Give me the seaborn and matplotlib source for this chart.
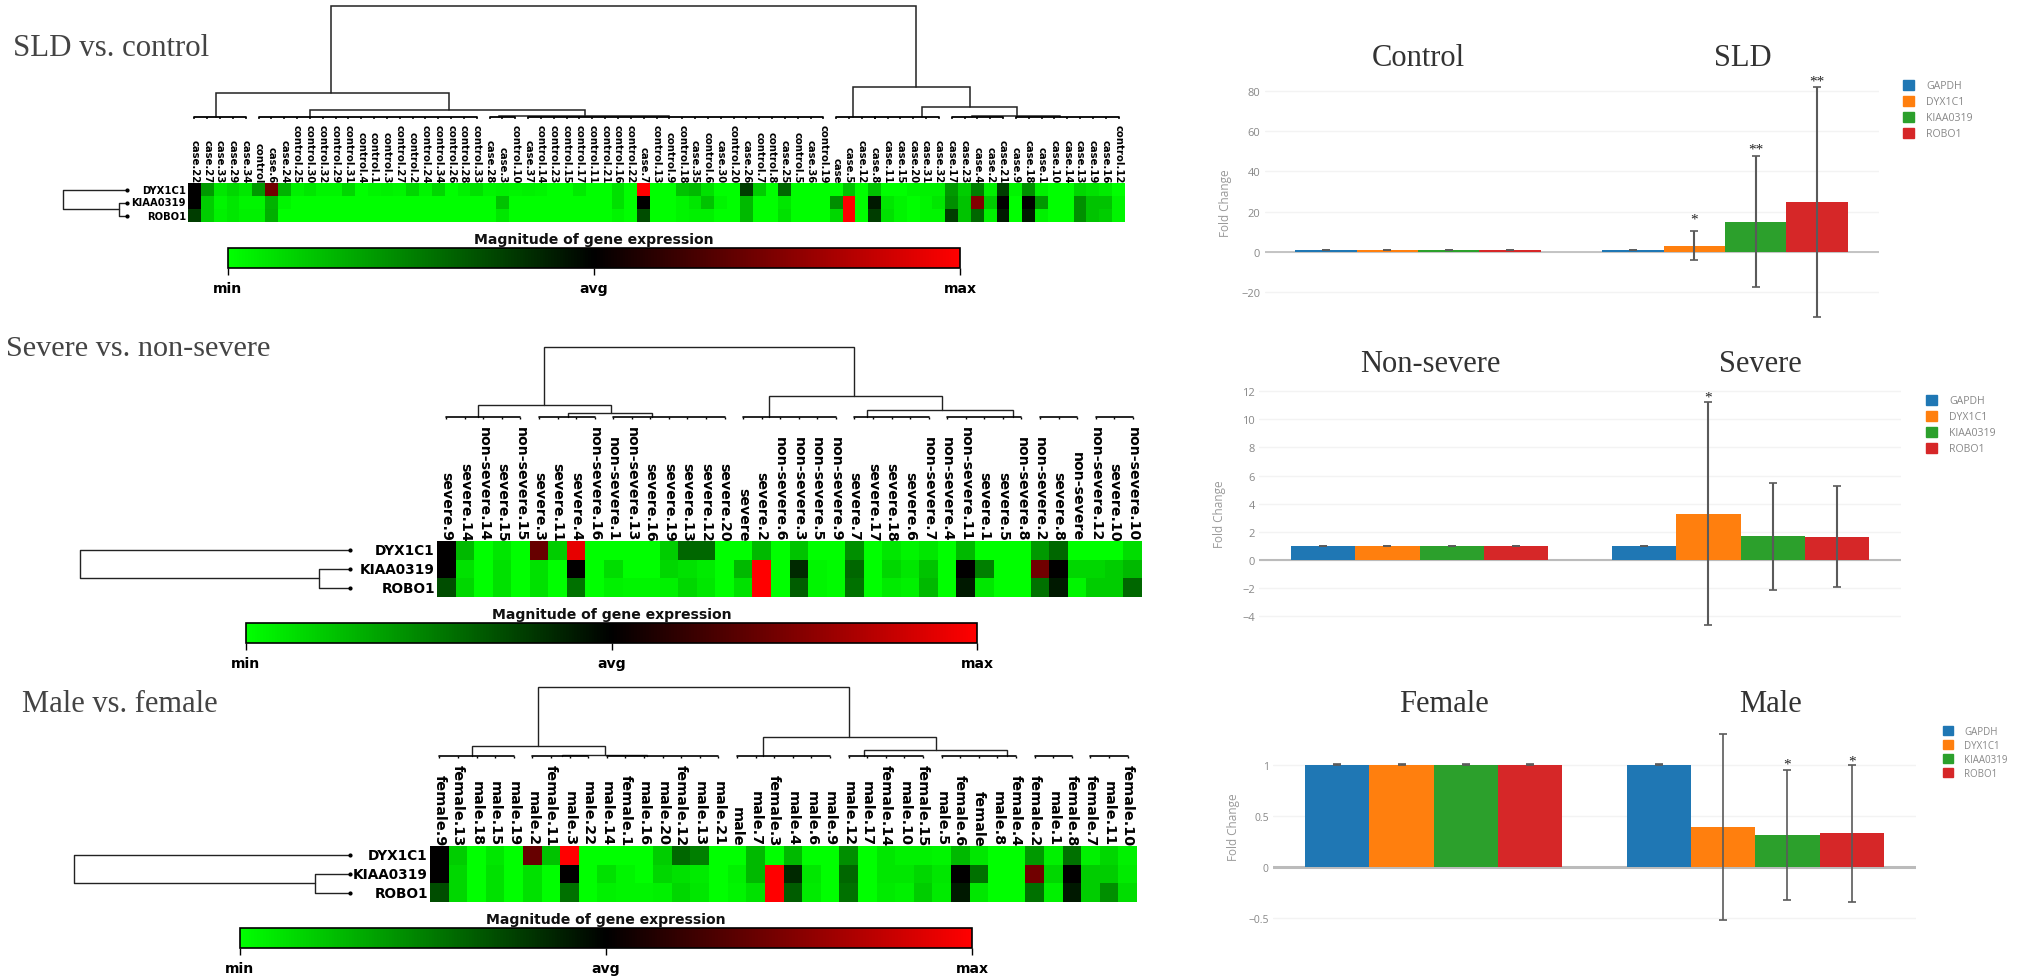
import matplotlib
matplotlib.use('Agg')
import matplotlib.pyplot as plt
import matplotlib.cm as cm
from matplotlib.colors import LinearSegmentedColormap, Normalize
import numpy as np
import pandas as pd
import seaborn as sns

W, H = 2030, 979

GENES = ['DYX1C1', 'KIAA0319', 'ROBO1']
BAR_GENES = ['GAPDH', 'DYX1C1', 'KIAA0319', 'ROBO1']
BAR_COLORS = ['#1f77b4', '#ff7f0e', '#2ca02c', '#d62728']

# Heatmap 1: SLD vs. control
LABELS_1 = ['case.22', 'case.27', 'case.33', 'case.29', 'case.34', 'control', 'case.6', 'case.24',
            'control.25', 'control.30', 'control.32', 'control.29', 'control.31', 'control.4',
            'control.1', 'control.3', 'control.27', 'control.2', 'control.24', 'control.34',
            'control.26', 'control.28', 'control.33', 'case.28', 'case.3', 'control.10', 'case.37',
            'control.14', 'control.23', 'control.15', 'control.17', 'control.11', 'control.21',
            'control.16', 'control.22', 'case.7', 'control.13', 'control.9', 'control.18', 'case.35',
            'control.6', 'case.30', 'control.20', 'case.26', 'control.7', 'control.8', 'case.25',
            'control.5', 'case.36', 'control.19', 'case', 'case.5', 'case.12', 'case.8', 'case.11',
            'case.15', 'case.20', 'case.31', 'case.32', 'case.17', 'case.23', 'case.4', 'case.2',
            'case.21', 'case.9', 'case.18', 'case.1', 'case.10', 'case.14', 'case.13', 'case.19',
            'case.16', 'control.12']
DYX_1 = [.5, .2, .05, .08, .05, .2, .72, .15, .03, .05,
         .02, .02, .08, 0, .02, .03, .02, .08, .02, .08,
         0, .03, .06, .02, .03, .02, .03, .02, 0, 0,
         .04, 0, 0, .06, 0, 1, 0, 0, .12, .14,
         .06, 0, 0, .38, .1, 0, .3, 0, 0, 0,
         0, .12, 0, .12, 0, 0, .02, .03, .03, .2,
         .1, .25, .03, .38, .02, .22, .03, 0, 0, .08,
         .06, .04, 0]
KIAA_1 = [.5, .1, .02, .05, .02, .02, .15, .02, 0, 0,
          0, 0, 0, 0, 0, 0, 0, 0, 0, 0,
          0, 0, 0, 0, .12, 0, 0, 0, 0, 0,
          0, 0, 0, .06, 0, .5, 0, 0, .02, .05,
          .12, .02, 0, .14, 0, 0, .05, 0, 0, 0,
          .22, 1, 0, .45, .05, .02, 0, .02, .05, .22,
          .12, .75, .1, .5, 0, .5, .2, 0, 0, .22,
          .12, .12, .02]
ROBO_1 = [.38, .1, .03, .05, .03, .03, .16, 0, 0, 0,
          0, 0, 0, 0, 0, 0, 0, 0, 0, 0,
          0, 0, 0, 0, .05, 0, 0, 0, 0, 0,
          0, 0, 0, .02, 0, .35, 0, 0, .02, .03,
          .03, 0, 0, .14, 0, 0, .06, 0, 0, 0,
          .08, 1, 0, .38, .06, .02, 0, .02, .02, .38,
          .12, .3, .03, .45, 0, .45, .03, 0, 0, .22,
          .12, .1, .02]

# Heatmap 2: severe vs. non-severe
LABELS_2 = ['severe.9', 'severe.14', 'non-severe.14', 'severe.15', 'non-severe.15', 'severe.3',
            'severe.11', 'severe.4', 'non-severe.16', 'non-severe.1', 'non-severe.13', 'severe.16',
            'severe.19', 'severe.13', 'severe.12', 'severe.20', 'severe', 'severe.2', 'non-severe.6',
            'non-severe.3', 'non-severe.5', 'non-severe.9', 'severe.7', 'severe.17', 'severe.18',
            'severe.6', 'non-severe.7', 'non-severe.4', 'non-severe.11', 'severe.1', 'severe.5',
            'non-severe.8', 'non-severe.2', 'severe.8', 'non-severe', 'non-severe.12', 'severe.10',
            'non-severe.10']
DYX_2 = [.5, .14, 0, .05, 0, .7, .1, .95, 0, 0, 0, 0, .1, .3, .3, 0, 0, .14, 0, .12,
         0, 0, .22, 0, .05, .02, .05, 0, .14, 0, 0, 0, .2, .3, 0, 0, 0, .07]
KIAA_2 = [.5, .06, 0, .06, 0, .06, 0, .5, 0, .07, 0, 0, .08, .06, .04, 0, .14, 1, 0, .42,
          .02, .01, .3, 0, .08, .05, .12, 0, .5, .25, 0, 0, .72, .5, .08, .08, .1, .14]
ROBO_2 = [.35, .08, 0, .06, 0, .06, 0, .28, 0, .03, .02, .02, .03, .08, .05, 0, .06, 1, 0, .32,
          .02, .01, .28, 0, .04, .03, .14, 0, .45, .05, 0, 0, .28, .45, .02, .1, .1, .3]

# Heatmap 3: male vs. female
LABELS_3 = ['female.9', 'female.13', 'male.18', 'male.15', 'male.19', 'male.2', 'female.11', 'male.3',
            'male.22', 'male.14', 'female.1', 'male.16', 'male.20', 'female.12', 'male.13', 'male.21',
            'male', 'male.7', 'female.3', 'male.4', 'male.6', 'male.9', 'male.12', 'male.17',
            'female.14', 'male.10', 'female.15', 'male.5', 'female.6', 'female', 'male.8', 'female.4',
            'female.2', 'male.1', 'female.8', 'female.7', 'male.11', 'female.10']
DYX_3 = [.5, .1, 0, .05, 0, .7, .12, 1, 0, 0, 0, 0, .1, .3, .25, 0, 0, .14, 0, .14,
         0, 0, .22, 0, .05, .03, .03, .02, .14, .05, 0, 0, .2, .03, .28, .03, .08, .03]
KIAA_3 = [.5, .08, 0, .06, 0, .06, 0, .5, 0, .06, .02, 0, .08, .06, .04, 0, .03, .14, 1, .42,
          .05, 0, .3, 0, .05, .05, .08, .05, .5, .28, 0, 0, .72, .08, .5, .1, .1, .04]
ROBO_3 = [.35, .08, 0, .06, 0, .06, 0, .28, 0, .03, .02, .02, .03, .08, .05, 0, .02, .06, 1, .32,
          .04, 0, .28, 0, .04, .03, .1, .04, .45, .05, 0, 0, .28, .03, .45, .1, .22, .07]

# Dendrograms: (left col, right col, height, left child height, right child height)
TREE_1 = [(11.14, 56.7, 113, 26, 32), (2.2, 20.3, 26, 2, 9), (9.5, 30.9, 9, 2, 3),
          (24.2, 37.5, 3, 2, 2), (51.8, 60.9, 32, 2, 12), (57.2, 64.6, 12, 2, 3), (61.1, 67.9, 3, 2, 2)]
COMBS_1 = [(.5, 4.5), (5.5, 22.5), (23.5, 25.5), (26.5, 49.5), (50.5, 53.5), (53.5, 58.5),
           (59.5, 63.5), (64.5, 72.5)]
TREE_2 = [(5.77, 22.5, 72, 14, 23), (2.2, 9.4, 14, 2, 6), (7.06, 11.6, 6, 2, 2),
          (17.9, 27.2, 23, 2, 9), (23.2, 31.05, 9, 2, 2)]
COMBS_2 = [(.5, 4.5), (5.5, 8.5), (9.5, 15.5), (16.5, 21.5), (22.5, 26.5), (27.5, 31.5),
           (32.5, 34.5), (35.5, 37.5)]
TREE_3 = [(5.8, 22.5, 71, 12, 21), (2.26, 9.4, 12, 2, 3), (7.1, 11.67, 3, 2, 2),
          (17.9, 27.2, 21, 2, 8), (23.3, 31.0, 8, 2, 2)]
COMBS_3 = COMBS_2
COMB_H = 2

# Fold change bars
CONDS_1 = ['Control', 'SLD']
FC_1_CTRL = [1, 1, 1, 1]
FC_1_CASE = [1, 3.1, 15, 24.9]
ERR_1_CTRL = [.12, .12, .12, .12]
ERR_1_CASE = [.12, 7.3, 32.6, 57.3]

CONDS_2 = ['Non-severe', 'Severe']
FC_2_CTRL = [1, 1, 1, 1]
FC_2_CASE = [1, 3.3, 1.7, 1.65]
ERR_2_CTRL = [.03, .03, .03, .03]
ERR_2_CASE = [.03, 7.9, 3.8, 3.6]

CONDS_3 = ['Female', 'Male']
FC_3_CTRL = [1, 1, 1, 1]
FC_3_CASE = [1, .39, .31, .33]
ERR_3_CTRL = [.005, .005, .005, .005]
ERR_3_CASE = [.005, .91, .635, .67]

green_red = LinearSegmentedColormap.from_list('gr', ['#00ff00', '#000000', '#ff0000'])

sns.set_theme(style='white')
fig = plt.figure(figsize=(W / 100, H / 100), dpi=100, facecolor='white')


def px_axes(x0, y0, x1, y1):
    return fig.add_axes([x0 / W, 1 - y1 / H, (x1 - x0) / W, (y1 - y0) / H])


def px_text(x, y, s, **kw):
    kw.setdefault('ha', 'center')
    kw.setdefault('va', 'center')
    return fig.text(x / W, 1 - y / H, s, **kw)


def draw_heat(box, labels, rows, col_size, row_size, pad):
    ax = px_axes(*box)
    df = pd.DataFrame(rows, index=GENES, columns=labels)
    sns.heatmap(df, ax=ax, cmap=green_red, vmin=0, vmax=1, cbar=False,
                xticklabels=True, yticklabels=True, linewidths=0)
    ax.xaxis.tick_top()
    ax.tick_params(axis='x', length=0, pad=pad, rotation=270)
    ax.tick_params(axis='y', length=0, pad=pad + 1, rotation=0)
    ax.set_xlabel('')
    ax.set_ylabel('')
    for t in ax.get_xticklabels():
        t.set_fontsize(col_size)
        t.set_fontweight('bold')
        t.set_fontfamily('DejaVu Sans')
        t.set_color('black')
    for t in ax.get_yticklabels():
        t.set_fontsize(row_size)
        t.set_fontweight('bold')
        t.set_fontfamily('DejaVu Sans')
        t.set_color('black')
    return ax


def draw_tree(box, tree, combs, ncols, lw):
    ax = px_axes(*box)
    ax.set_xlim(0, ncols)
    ax.set_ylim(0, tree[0][2])
    ax.axis('off')
    for x1, x2, h, h1, h2 in tree:
        ax.plot([x1, x1, x2, x2], [h1, h, h, h2], color='#222222', lw=lw, solid_joinstyle='miter', clip_on=False)
    for a, b in combs:
        ax.plot([a, b], [COMB_H, COMB_H], color='black', lw=lw + .2, clip_on=False)
        ax.vlines(np.arange(a, b + .5), 0, COMB_H, color='black', lw=lw, clip_on=False)


def draw_row_tree(box, root, inner, lw):
    ax = px_axes(*box)
    ax.set_xlim(root, 0)
    ax.set_ylim(3, 0)
    ax.axis('off')
    ax.plot([0, inner, inner, 0], [1.5, 1.5, 2.5, 2.5], color='#222222', lw=lw, clip_on=False)
    ax.plot([0, root, root, inner], [.5, .5, 2, 2], color='#222222', lw=lw, clip_on=False)
    ax.plot([0, 0, 0], [.5, 1.5, 2.5], ls='', marker='o', ms=2, color='black', clip_on=False)


def draw_scale(box, title_y, size, lw):
    ax = px_axes(*box)
    sm = cm.ScalarMappable(norm=Normalize(0, 1), cmap=green_red)
    cb = fig.colorbar(sm, cax=ax, orientation='horizontal', ticks=[0, .5, 1])
    cb.ax.set_xticklabels(['min', 'avg', 'max'], fontsize=size, fontweight='bold', fontfamily='DejaVu Sans', color='black')
    cb.ax.tick_params(axis='x', length=5, width=1, pad=4.5, color='black', bottom=True)
    cb.outline.set_edgecolor('black')
    cb.outline.set_linewidth(lw)
    px_text((box[0] + box[2]) / 2, title_y, 'Magnitude of gene expression', fontsize=size,
            fontweight='bold', family='DejaVu Sans', color='#111111')


def draw_bars(box, ylim, yticks, ticklabels, conds, ctrl, case, err_ctrl, err_case, stars,
              tick_size, zero_lw, err_lw):
    ax = px_axes(*box)
    df = pd.DataFrame({
        'cond': [conds[0]] * 4 + [conds[1]] * 4,
        'gene': BAR_GENES * 2,
        'fc': list(ctrl) + list(case),
    })
    sns.barplot(data=df, x='cond', y='fc', hue='gene', hue_order=BAR_GENES, palette=BAR_COLORS,
                width=.8, dodge=True, saturation=1, ax=ax, zorder=3, legend=False, errorbar=None,
                linewidth=0)
    ax.set_xlim(-.5, 1.5)
    ax.set_ylim(*ylim)
    ax.set_xticks([])
    ax.set_xlabel('')
    ax.set_ylabel('')
    ax.set_yticks(yticks)
    ax.set_yticklabels(ticklabels, fontsize=tick_size, family='Open Sans', color='#888888')
    ax.tick_params(axis='y', length=0, pad=3)
    sns.despine(ax=ax, left=True, bottom=True, top=True, right=True)
    ax.grid(axis='y', color='#f3f3f3', lw=1, zorder=0)
    ax.axhline(0, color='#bbbbbb', lw=zero_lw, zorder=2)
    for i, cont in enumerate(list(ax.containers)):
        for j, bar in enumerate(cont):
            cx = bar.get_x() + bar.get_width() / 2
            e = (err_ctrl if j == 0 else err_case)[i]
            ax.errorbar(cx, bar.get_height(), yerr=e, color='#5a5a5a', elinewidth=err_lw,
                        capsize=3, capthick=1.2, zorder=5, clip_on=False)
            if j == 1 and i in stars:
                mark, gap = stars[i]
                ax.text(cx, bar.get_height() + e + gap, mark, ha='center', va='center',
                        fontsize=11, color='#222222', family='Liberation Serif', clip_on=False)
    return ax


def draw_legend(ax, x, y, size, spacing):
    handles = [plt.Rectangle((0, 0), 1, 1, color=c) for c in BAR_COLORS]
    ax.legend(handles, BAR_GENES, loc='upper left', bbox_to_anchor=(x / W, 1 - y / H),
              bbox_transform=fig.transFigure, frameon=False, labelcolor='#888888',
              handlelength=1.05, handleheight=1.05, handletextpad=1.15, labelspacing=spacing,
              borderpad=0, borderaxespad=0, prop={'family': 'Open Sans', 'size': size})


# panel titles
SERIF = 'Liberation Serif'
px_text(13, 49, 'SLD vs. control', ha='left', fontsize=22.2, family=SERIF, color='#444444')
px_text(6, 349, 'Severe vs. non-severe', ha='left', fontsize=21.8, family=SERIF, color='#444444')
px_text(22, 705, 'Male vs. female', ha='left', fontsize=22, family=SERIF, color='#444444')

# heatmaps
draw_heat((188, 184, 1125, 223), LABELS_1, [DYX_1, KIAA_1, ROBO_1], 7.3, 7.2, .5)
draw_tree((188, 7, 1125, 120), TREE_1, COMBS_1, 73, 1.1)
draw_row_tree((63, 184, 127, 223), 64, 8, 1.0)
draw_scale((228, 249, 960, 269), 240, 10.1, 1.2)

draw_heat((437, 542, 1142, 598), LABELS_2, [DYX_2, KIAA_2, ROBO_2], 10.2, 9.8, .5)
draw_tree((437, 348, 1142, 420), TREE_2, COMBS_2, 38, 1.0)
draw_row_tree((80, 542, 350, 598), 270, 31, 1.0)
draw_scale((246, 624, 977, 644), 615, 10.1, 1.2)

draw_heat((430, 847, 1137, 903), LABELS_3, [DYX_3, KIAA_3, ROBO_3], 10.4, 9.8, .5)
draw_tree((430, 688, 1137, 759), TREE_3, COMBS_3, 38, 1.0)
draw_row_tree((74, 847, 350, 903), 276, 35, 1.0)
draw_scale((240, 929, 972, 949), 920, 10.1, 1.2)

# fold change charts
ax1 = draw_bars((1264.5, 70, 1878.5, 325), (-35.8, 90.9), [-20, 0, 20, 40, 60, 80],
                ['\u221220', '0', '20', '40', '60', '80'], CONDS_1,
                FC_1_CTRL, FC_1_CASE, ERR_1_CTRL, ERR_1_CASE,
                {1: ('*', 6), 2: ('**', 3.5), 3: ('**', 2.5)}, 8, 1.2, 1.5)
ax2 = draw_bars((1259, 385, 1901, 630), (-4.9, 12.5), [-4, -2, 0, 2, 4, 6, 8, 10, 12],
                ['\u22124', '\u22122', '0', '2', '4', '6', '8', '10', '12'], CONDS_2,
                FC_2_CTRL, FC_2_CASE, ERR_2_CTRL, ERR_2_CASE, {1: ('*', .4)}, 8, 1.5, 1.5)
ax3 = draw_bars((1273, 725, 1916, 925), (-.56, 1.40), [-.5, 0, .5, 1],
                ['\u22120.5', '0', '0.5', '1'], CONDS_3,
                FC_3_CTRL, FC_3_CASE, ERR_3_CTRL, ERR_3_CASE, {2: ('*', .06), 3: ('*', .04)}, 7.5, 2.2, 1.2)

draw_legend(ax1, 1903, 81, 7.6, .42)
draw_legend(ax2, 1926, 396, 7.6, .42)
draw_legend(ax3, 1943, 727, 7.0, .3)

px_text(1226, 203, 'Fold Change', rotation=90, fontsize=8.5, family='Open Sans', color='#999999')
px_text(1219, 514, 'Fold Change', rotation=90, fontsize=8.5, family='Open Sans', color='#999999')
px_text(1233, 827, 'Fold Change', rotation=90, fontsize=8.5, family='Open Sans', color='#999999')

for name, x, y in [(CONDS_1[0], 1418, 58), (CONDS_1[1], 1743, 58), (CONDS_2[0], 1430, 365),
                   (CONDS_2[1], 1760, 365), (CONDS_3[0], 1444, 705), (CONDS_3[1], 1770, 705)]:
    px_text(x, y, name, fontsize=22, family=SERIF, color='#333333')

fig.savefig('out.png', dpi=100, facecolor='white')
